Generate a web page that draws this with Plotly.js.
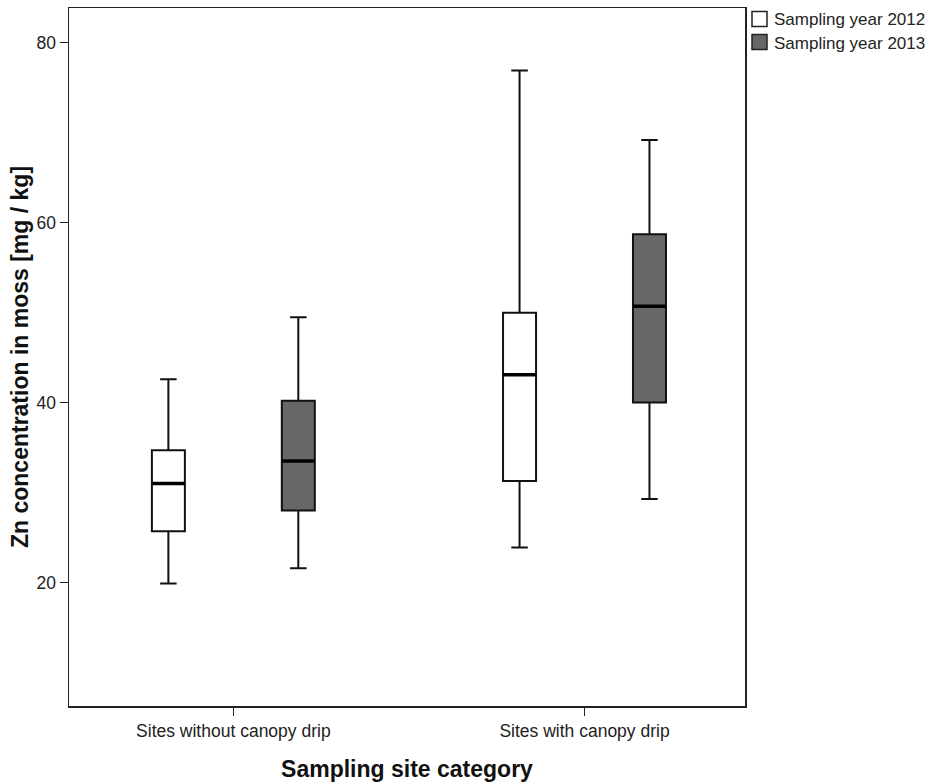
<!DOCTYPE html>
<html>
<head>
<meta charset="utf-8">
<script src="https://cdn.plot.ly/plotly-3.0.1.min.js"></script>
<style>
  html, body { margin: 0; padding: 0; background: #ffffff; }
  #chart { width: 929px; height: 783px; }
</style>
</head>
<body>
<div id="chart"></div>
<script>
// Site categories on the x axis
const categories = ['Sites without canopy drip', 'Sites with canopy drip'];

// Zn in moss [mg/kg], five-number summaries per sampling year
const year2012Min    = [19.9, 23.9];
const year2012Q1     = [25.7, 31.3];
const year2012Median = [31.0, 43.1];
const year2012Q3     = [34.7, 50.0];
const year2012Max    = [42.6, 76.9];

const year2013Min    = [21.6, 29.3];
const year2013Q1     = [28.0, 40.0];
const year2013Median = [33.5, 50.7];
const year2013Q3     = [40.2, 58.7];
const year2013Max    = [49.5, 69.2];

const seriesNames  = ['Sampling year 2012', 'Sampling year 2013'];
const seriesFills  = ['#ffffff', '#676767'];
const yTickValues  = [20, 40, 60, 80];

const FONT = 'Liberation Sans, Arial, Helvetica, sans-serif';

// Figure geometry (pixels)
const W = 929, H = 783;
const M = { l: 69, r: 184, t: 8, b: 77 };
const plotW = W - M.l - M.r;
const plotH = H - M.t - M.b;
const px2x = px => (px - M.l) / plotW;
const px2y = py => (H - M.b - py) / plotH;

function boxTrace(name, group, lo, q1, med, q3, hi, fill) {
  return {
    type: 'box',
    name: name,
    offsetgroup: group,
    x: categories,
    lowerfence: lo,
    q1: q1,
    median: med,
    q3: q3,
    upperfence: hi,
    fillcolor: fill,
    line: { color: '#111111', width: 2 },
    whiskerwidth: 0.5,
    boxpoints: false,
    hoverinfo: 'y'
  };
}

// Heavier median bar drawn on top of each box (a zero-height box at the median)
function medianTrace(name, group, med) {
  return {
    type: 'box',
    name: name + ' median',
    offsetgroup: group,
    x: categories,
    lowerfence: med,
    q1: med,
    median: med,
    q3: med,
    upperfence: med,
    fillcolor: 'rgba(0,0,0,0)',
    line: { color: '#000000', width: 3.5 },
    whiskerwidth: 0,
    boxpoints: false,
    hoverinfo: 'skip'
  };
}

const data = [
  boxTrace(seriesNames[0], 'y2012', year2012Min, year2012Q1, year2012Median, year2012Q3, year2012Max, seriesFills[0]),
  boxTrace(seriesNames[1], 'y2013', year2013Min, year2013Q1, year2013Median, year2013Q3, year2013Max, seriesFills[1]),
  medianTrace(seriesNames[0], 'y2012', year2012Median),
  medianTrace(seriesNames[1], 'y2013', year2013Median)
];

// Key in the right margin: a swatch and a label per sampling year
const keyShapes = [];
const keyLabels = [];
seriesNames.forEach((name, i) => {
  const cy = 19 + i * 23;
  keyShapes.push({
    type: 'rect', xref: 'paper', yref: 'paper',
    x0: px2x(752), x1: px2x(767),
    y0: px2y(cy + 7.5), y1: px2y(cy - 7.5),
    fillcolor: seriesFills[i],
    line: { color: '#222222', width: 1.5 }
  });
  keyLabels.push({
    xref: 'paper', yref: 'paper',
    x: px2x(772), y: px2y(cy + 1),
    xanchor: 'left', yanchor: 'middle',
    text: name, showarrow: false,
    font: { family: FONT, size: 17, color: '#222222' }
  });
});

const layout = {
  width: W,
  height: H,
  margin: M,
  paper_bgcolor: '#ffffff',
  plot_bgcolor: '#ffffff',
  font: { family: FONT, size: 17, color: '#222222' },
  boxmode: 'group',
  boxgap: 0.26,
  boxgroupgap: 0.746,
  showlegend: false,
  shapes: keyShapes,
  annotations: keyLabels,
  xaxis: {
    type: 'category',
    range: [-0.468, 1.457],
    showgrid: false,
    zeroline: false,
    showline: true,
    mirror: true,
    linecolor: '#222222',
    linewidth: 1.5,
    ticks: 'outside',
    ticklen: 8,
    tickwidth: 1.5,
    tickcolor: '#222222',
    tickfont: { family: FONT, size: 17.5, color: '#222222' },
    title: {
      text: 'Sampling site category',
      font: { family: FONT, size: 23, color: '#111111', weight: 'bold' },
      standoff: 21
    }
  },
  yaxis: {
    range: [6.28, 83.86],
    tickvals: yTickValues,
    ticktext: yTickValues.map(String),
    showgrid: false,
    zeroline: false,
    showline: true,
    mirror: true,
    linecolor: '#222222',
    linewidth: 1.5,
    ticks: 'outside',
    ticklen: 8,
    tickwidth: 1.5,
    tickcolor: '#222222',
    tickfont: { family: FONT, size: 17.5, color: '#222222' },
    title: {
      text: 'Zn concentration in moss [mg / kg]',
      font: { family: FONT, size: 23, color: '#111111', weight: 'bold' },
      standoff: 1
    }
  }
};

Plotly.newPlot('chart', data, layout, { displayModeBar: false, staticPlot: true });
</script>
</body>
</html>
